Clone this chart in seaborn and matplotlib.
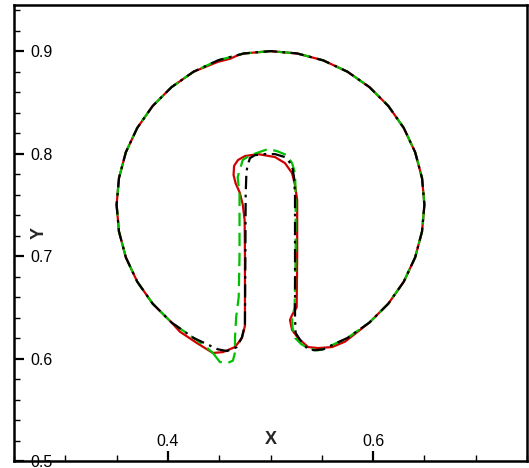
import matplotlib
matplotlib.use("Agg")
import matplotlib.pyplot as plt
import seaborn as sns
from matplotlib.ticker import MultipleLocator

# interface contours (x, y)
red_x = [0.4751, 0.4751, 0.4748, 0.4730, 0.4700, 0.4660, 0.4640, 0.4645, 0.4683, 0.4751,
         0.4878, 0.5044, 0.5141, 0.5210, 0.5239, 0.5260, 0.5260, 0.5255, 0.5210, 0.5190,
         0.5210, 0.5268, 0.5366, 0.5463, 0.5600, 0.5727,
         0.5964, 0.6149, 0.6299, 0.6410, 0.6477, 0.6500, 0.6477, 0.6410, 0.6299, 0.6149,
         0.5964, 0.5750, 0.5513, 0.5260, 0.5000, 0.4740, 0.4683, 0.4605, 0.4487, 0.4250,
         0.4036, 0.3851, 0.3701, 0.3590, 0.3523, 0.3500, 0.3523, 0.3590, 0.3701, 0.3851,
         0.4036,
         0.4117, 0.4283, 0.4439, 0.4537, 0.4654, 0.4722, 0.4751]
red_y = [0.632, 0.700, 0.735, 0.750, 0.762, 0.771, 0.779, 0.788, 0.7937, 0.7976,
         0.7995, 0.7966, 0.7907, 0.781, 0.7693, 0.7546, 0.700, 0.650, 0.6424, 0.6376,
         0.628, 0.620, 0.6112, 0.6102, 0.6112, 0.6165,
         0.6351, 0.6536, 0.675, 0.6987, 0.724, 0.75, 0.776, 0.8013, 0.825, 0.8464,
         0.8649, 0.8799, 0.891, 0.8977, 0.9, 0.8977, 0.8960, 0.8925, 0.8895, 0.8799,
         0.8649, 0.8464, 0.825, 0.8013, 0.776, 0.75, 0.724, 0.6987, 0.675, 0.6536,
         0.6351,
         0.6262, 0.6151, 0.6054, 0.6063, 0.6112, 0.620, 0.632]

black_x = [0.4751, 0.4755, 0.4758, 0.4765, 0.4775, 0.4800, 0.4849, 0.4946, 0.5044, 0.5141,
           0.5210, 0.5229, 0.5239, 0.5239, 0.5239, 0.5245, 0.5290, 0.5360, 0.5430,
           0.5513, 0.5750, 0.5964, 0.6149, 0.6299, 0.6410, 0.6477, 0.6500, 0.6477, 0.6410,
           0.6299, 0.6149, 0.5964, 0.5750, 0.5513, 0.5260, 0.5000, 0.4740, 0.4487, 0.4250,
           0.4036, 0.3851, 0.3701, 0.3590, 0.3523, 0.3500, 0.3523, 0.3590, 0.3701, 0.3851,
           0.4036, 0.4250, 0.4487,
           0.4576, 0.4673, 0.4722, 0.4751]
black_y = [0.633, 0.700, 0.760, 0.781, 0.788, 0.7956, 0.7985, 0.7995, 0.7995, 0.7966,
           0.7888, 0.777, 0.760, 0.700, 0.640, 0.625, 0.618, 0.6095, 0.608,
           0.609, 0.6201, 0.6351, 0.6536, 0.675, 0.6987, 0.724, 0.75, 0.776, 0.8013,
           0.825, 0.8464, 0.8649, 0.8799, 0.891, 0.8977, 0.9, 0.8977, 0.891, 0.8799,
           0.8649, 0.8464, 0.825, 0.8013, 0.776, 0.75, 0.724, 0.6987, 0.675, 0.6536,
           0.6351, 0.6201, 0.609,
           0.6073, 0.6112, 0.621, 0.633]

green_x = [0.4439, 0.4507, 0.4580, 0.4634, 0.4654, 0.4654, 0.4665, 0.4690, 0.4698, 0.4698,
           0.4680, 0.4700, 0.4730, 0.4800, 0.4850, 0.4976, 0.5063, 0.5160, 0.5210, 0.5239,
           0.5245, 0.5245, 0.5235, 0.5210, 0.5215, 0.5240, 0.5300, 0.5380, 0.5460,
           0.5513, 0.5750, 0.5964, 0.6149, 0.6299, 0.6410, 0.6477, 0.6500, 0.6477, 0.6410,
           0.6299, 0.6149, 0.5964, 0.5750, 0.5513, 0.5260, 0.5000, 0.4740, 0.4487, 0.4250,
           0.4036, 0.3851, 0.3701, 0.3590, 0.3523, 0.3500, 0.3523, 0.3590, 0.3701, 0.3851,
           0.4036, 0.4250,
           0.4345, 0.4439]
green_y = [0.6054, 0.5966, 0.5955, 0.5980, 0.6060, 0.6200, 0.6400, 0.6600, 0.7000, 0.7600,
           0.7770, 0.7840, 0.7937, 0.7985, 0.8000, 0.8044, 0.8024, 0.7985, 0.7907, 0.7810,
           0.7600, 0.7000, 0.6500, 0.6400, 0.6300, 0.6200, 0.6140, 0.6095, 0.6080,
           0.609, 0.6201, 0.6351, 0.6536, 0.675, 0.6987, 0.724, 0.75, 0.776, 0.8013,
           0.825, 0.8464, 0.8649, 0.8799, 0.891, 0.8977, 0.9, 0.8977, 0.891, 0.8799,
           0.8649, 0.8464, 0.825, 0.8013, 0.776, 0.75, 0.724, 0.6987, 0.675, 0.6536,
           0.6351, 0.6201,
           0.6135, 0.6054]

sns.set_style("white")
plt.rcParams['font.family'] = ['Liberation Sans', 'DejaVu Sans']

fig = plt.figure(figsize=(5.29, 4.68), dpi=100)
ax = fig.add_axes([14 / 529, 7 / 468, 513 / 529, 456 / 468])

# red solid, green dashed, black dash-dot on top
sns.lineplot(x=red_x, y=red_y, sort=False, estimator=None, color="#d00000",
             linewidth=1.6, ax=ax)
sns.lineplot(x=green_x, y=green_y, sort=False, estimator=None, color="#00c000",
             linewidth=1.6, linestyle=(0, (6, 3)), ax=ax)
sns.lineplot(x=black_x, y=black_y, sort=False, estimator=None, color="black",
             linewidth=1.6, linestyle=(0, (6, 2.5, 1.2, 2.5)), ax=ax)

ax.set_xlim(0.25, 0.75)
ax.set_ylim(0.5, 0.945)

ax.xaxis.set_major_locator(MultipleLocator(0.2))
ax.xaxis.set_minor_locator(MultipleLocator(0.05))
ax.yaxis.set_major_locator(MultipleLocator(0.1))
ax.yaxis.set_minor_locator(MultipleLocator(0.02))

for side in ax.spines.values():
    side.set_linewidth(1.8)
    side.set_color("black")

ax.tick_params(which="both", direction="in", bottom=True, left=True, top=False,
               right=False, colors="black", labelsize=11.5)
ax.tick_params(which="major", length=7, width=1.6)
ax.tick_params(which="minor", length=4.5, width=1.0)
# labels drawn inside the frame
ax.tick_params(axis="x", which="major", pad=-10.8)
ax.tick_params(axis="y", which="major", pad=-11.5)

ax.set_xlabel("X", fontsize=13, fontweight="bold", va="baseline")
ax.set_ylabel("Y", fontsize=13, fontweight="bold", va="center")
ax.xaxis.set_label_coords(0.5, 0.037)
ax.yaxis.set_label_coords(0.049, 0.5)

fig.canvas.draw()
for lab in ax.get_xticklabels():
    lab.set_verticalalignment("baseline")
for lab in ax.get_yticklabels():
    lab.set_horizontalalignment("left")
    lab.set_bbox(dict(facecolor="white", edgecolor="none", pad=0.5))

fig.savefig("out.png", dpi=100)
